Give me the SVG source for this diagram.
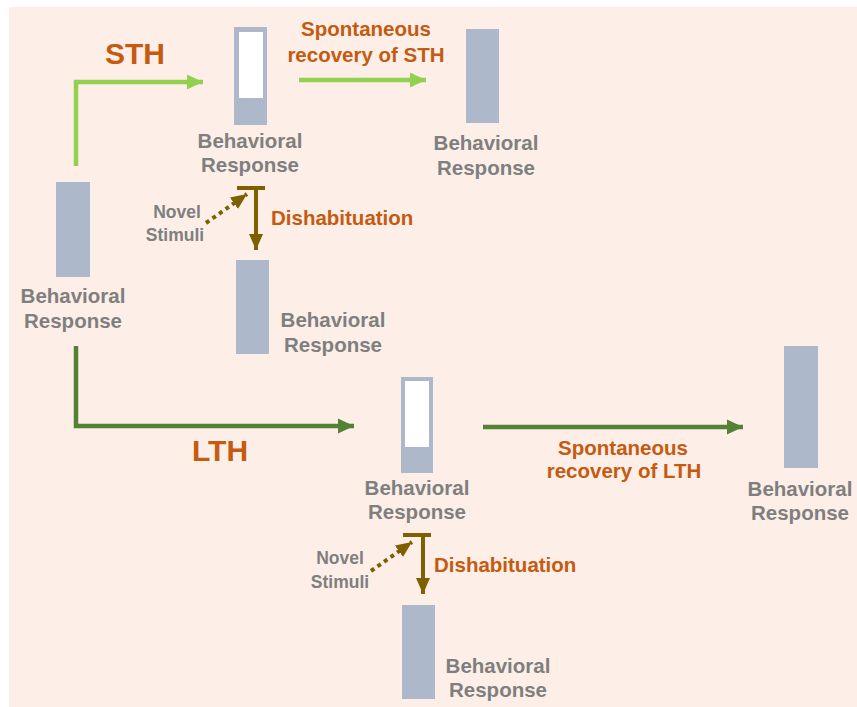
<svg xmlns="http://www.w3.org/2000/svg" width="857" height="707" viewBox="0 0 857 707">
<defs>
<style>
.lbl{font-family:"Liberation Sans",Arial,sans-serif;font-weight:bold;font-size:20.5px;fill:#7f7f7f;text-anchor:middle}
.nov{font-family:"Liberation Sans",Arial,sans-serif;font-weight:bold;font-size:17.5px;fill:#7f7f7f;text-anchor:middle}
.org{font-family:"Liberation Sans",Arial,sans-serif;font-weight:bold;font-size:20.5px;fill:#c55a11}
.big{font-family:"Liberation Sans",Arial,sans-serif;font-weight:bold;font-size:30px;fill:#c55a11;text-anchor:middle}
.bar{fill:#adb9ca}
.hole{fill:#ffffff}
.lg{fill:none;stroke:#92d050;stroke-width:4.5}
.dg{fill:none;stroke:#548235;stroke-width:4.5}
.br{fill:none;stroke:#7f6000;stroke-width:4}
.dot{fill:none;stroke:#7f6000;stroke-width:4;stroke-dasharray:4 4}
</style>
<marker id="aLG" markerUnits="userSpaceOnUse" markerWidth="17" markerHeight="17" viewBox="0 0 17 17" refX="16" refY="8.5" orient="auto"><path d="M0,1 L16,8.5 L0,16 Z" fill="#92d050"/></marker>
<marker id="aDG" markerUnits="userSpaceOnUse" markerWidth="17" markerHeight="17" viewBox="0 0 17 17" refX="16" refY="8.5" orient="auto"><path d="M0,1 L16,8.5 L0,16 Z" fill="#548235"/></marker>
<marker id="aBR" markerUnits="userSpaceOnUse" markerWidth="17" markerHeight="17" viewBox="0 0 17 17" refX="16" refY="8.5" orient="auto"><path d="M0,1.5 L16,8.5 L0,15.5 Z" fill="#7f6000"/></marker>
</defs>
<rect x="0" y="0" width="857" height="707" fill="#ffffff"/>
<rect x="9" y="7" width="848" height="700" fill="#fdefe7"/>

<g id="connectors">
<path class="lg" d="M76,166 V82 H203" marker-end="url(#aLG)"/>
<path class="lg" d="M299,80 H426" marker-end="url(#aLG)"/>
<path class="dg" d="M76,346 V426 H354" marker-end="url(#aDG)"/>
<path class="dg" d="M483,427 H743" marker-end="url(#aDG)"/>
<path class="br" d="M237,188 H265"/>
<path class="br" d="M256,188 V250" marker-end="url(#aBR)"/>
<path class="dot" d="M206,223 L247,194" marker-end="url(#aBR)"/>
<path class="br" d="M403,535 H431"/>
<path class="br" d="M423,535 V594" marker-end="url(#aBR)"/>
<path class="dot" d="M371,571 L412,542" marker-end="url(#aBR)"/>
</g>

<g id="labels">
<text class="big" x="135" y="64">STH</text>
<text class="big" x="220" y="461">LTH</text>
<text class="org" x="366" y="36" text-anchor="middle">Spontaneous</text>
<text class="org" x="366" y="62" text-anchor="middle">recovery of STH</text>
<text class="org" x="623" y="455" text-anchor="middle">Spontaneous</text>
<text class="org" x="624" y="478" text-anchor="middle">recovery of LTH</text>
<text class="org" x="271" y="225">Dishabituation</text>
<text class="org" x="434" y="572">Dishabituation</text>
<text class="nov" x="177" y="218">Novel</text>
<text class="nov" x="175" y="241">Stimuli</text>
<text class="nov" x="340" y="564">Novel</text>
<text class="nov" x="340" y="588">Stimuli</text>
</g>

<g id="node-initial">
<rect class="bar" x="56" y="182" width="34" height="95"/>
<text class="lbl" x="73" y="303">Behavioral</text>
<text class="lbl" x="73" y="328">Response</text>
</g>

<g id="node-sth-habituated">
<rect class="bar" x="234" y="27" width="33" height="98"/>
<rect class="hole" x="239" y="32" width="24" height="66"/>
<text class="lbl" x="250" y="148">Behavioral</text>
<text class="lbl" x="250" y="172">Response</text>
</g>

<g id="node-sth-recovered">
<rect class="bar" x="466" y="29" width="33" height="94"/>
<text class="lbl" x="486" y="150">Behavioral</text>
<text class="lbl" x="486" y="175">Response</text>
</g>

<g id="node-sth-dishab">
<rect class="bar" x="236" y="260" width="33" height="94"/>
<text class="lbl" x="333" y="327">Behavioral</text>
<text class="lbl" x="333" y="352">Response</text>
</g>

<g id="node-lth-habituated">
<rect class="bar" x="401" y="377" width="32" height="96"/>
<rect class="hole" x="405" y="381" width="24" height="66"/>
<text class="lbl" x="417" y="495">Behavioral</text>
<text class="lbl" x="417" y="519">Response</text>
</g>

<g id="node-lth-recovered">
<rect class="bar" x="784" y="346" width="34" height="122"/>
<text class="lbl" x="800" y="496">Behavioral</text>
<text class="lbl" x="800" y="520">Response</text>
</g>

<g id="node-lth-dishab">
<rect class="bar" x="402" y="605" width="33" height="94"/>
<text class="lbl" x="498" y="673">Behavioral</text>
<text class="lbl" x="498" y="697">Response</text>
</g>
</svg>
